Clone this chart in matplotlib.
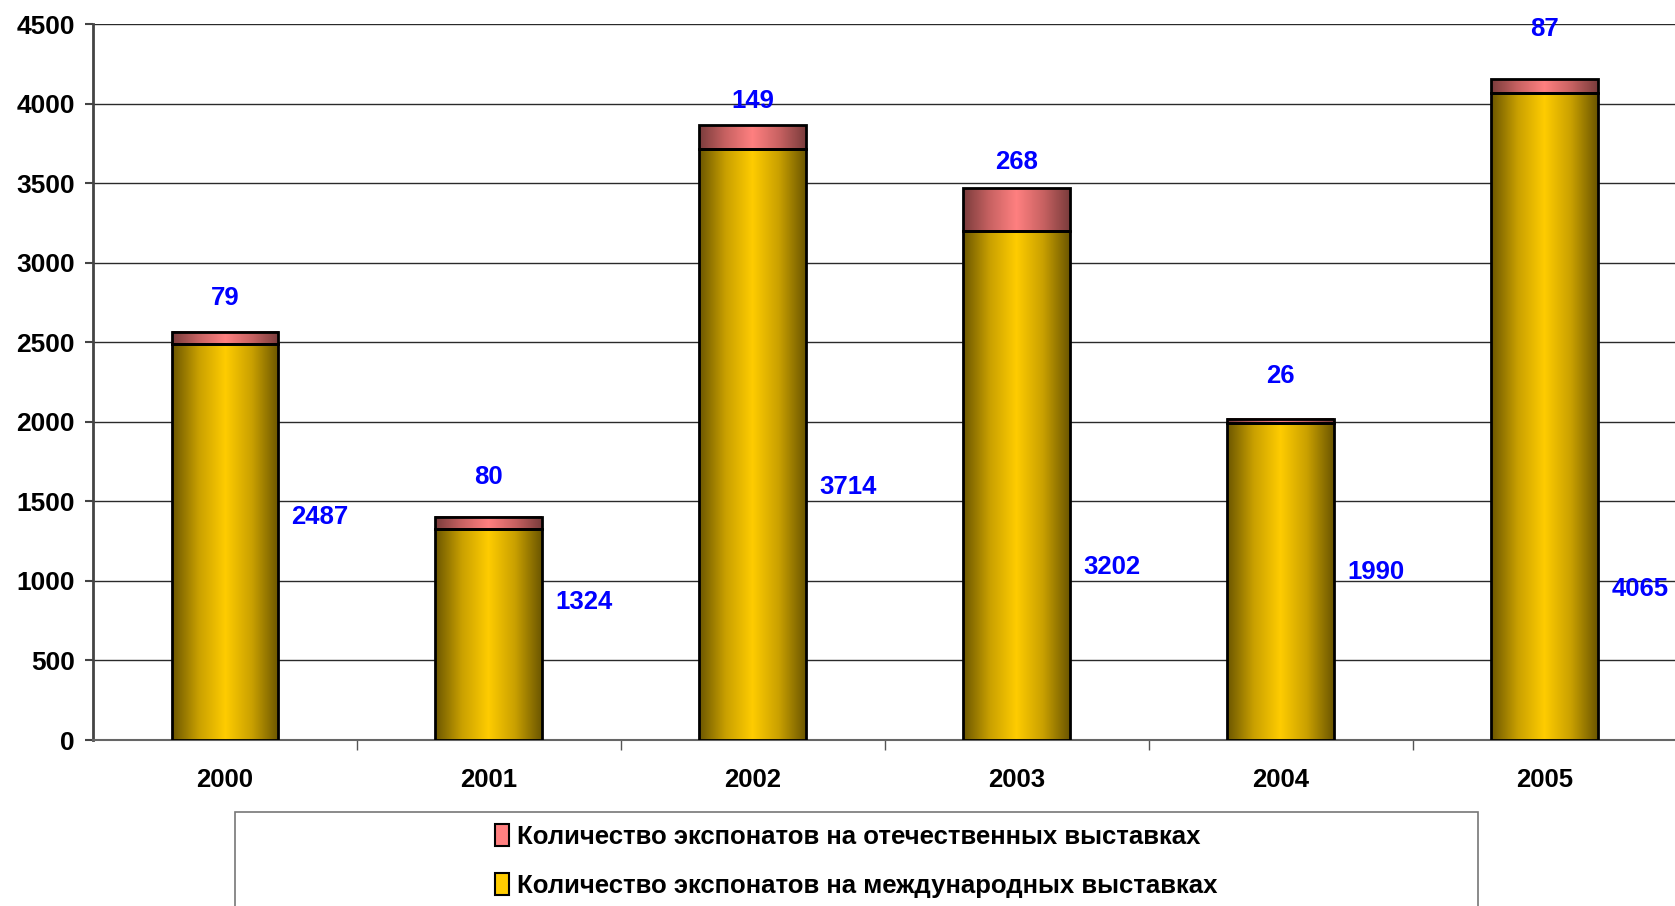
import matplotlib
matplotlib.use('Agg')
import matplotlib.pyplot as plt
import numpy as np
from matplotlib.colors import LinearSegmentedColormap
from matplotlib.patches import Rectangle, Patch

plt.rcParams['font.family'] = ['Liberation Sans', 'DejaVu Sans']
plt.rcParams['font.weight'] = 'bold'

# данные
years = ['2000', '2001', '2002', '2003', '2004', '2005']
international = [2487, 1324, 3714, 3202, 1990, 4065]
domestic = [79, 80, 149, 268, 26, 87]
series_names = ['Количество экспонатов на отечественных выставках',
                'Количество экспонатов на международных выставках']

# где стоят подписи (как в исходнике, расставлены вручную)
dom_label_gap = [212, 249, 150, 163, 272, 317]
int_label_y = [1402, 867, 1590, 1087, 1053, 952]

fig = plt.figure(figsize=(16.75, 9.06), dpi=100)
ax = fig.add_axes([93 / 1675, 1 - 740 / 906, 1 - 93 / 1675 + 0.001, (740 - 24) / 906])

x = np.arange(len(years))
w = 0.405

yellow = LinearSegmentedColormap.from_list('y', ['#6b5600', '#c9a000', '#ffcc00', '#c9a000', '#6b5600'])
pink = LinearSegmentedColormap.from_list('p', ['#7a3c3c', '#c86262', '#ff8080', '#c86262', '#7a3c3c'])
grad = np.linspace(0, 1, 256).reshape(1, -1)

b1 = ax.bar(x, international, w, facecolor='none', edgecolor='black', linewidth=2, zorder=4)
b2 = ax.bar(x, domestic, w, bottom=international, facecolor='none', edgecolor='black',
            linewidth=2, zorder=4)

for i in range(len(years)):
    l, r = x[i] - w / 2, x[i] + w / 2
    ax.imshow(grad, cmap=yellow, extent=[l, r, 0, international[i]], aspect='auto', zorder=3)
    ax.imshow(grad, cmap=pink, extent=[l, r, international[i], international[i] + domestic[i]],
              aspect='auto', zorder=3)

for i in range(len(years)):
    top = international[i] + domestic[i]
    ax.text(x[i], top + dom_label_gap[i], str(domestic[i]), color='#0000ff', fontsize=18.5,
            fontweight='bold', ha='center', va='center', zorder=5)
    ax.text(x[i] + 0.36, int_label_y[i], str(international[i]), color='#0000ff', fontsize=18.5,
            fontweight='bold', ha='center', va='center', zorder=5)

ax.set_xlim(-0.5, 5.5)
ax.set_ylim(0, 4500)
ax.set_yticks(np.arange(0, 4501, 500))
ax.yaxis.grid(True, color='#2a2a2a', linewidth=1)
ax.set_axisbelow(True)

ax.set_xticks(x)
ax.set_xticklabels(years)
ax.set_xticks(np.arange(0.5, 5.5, 1), minor=True)
ax.tick_params(axis='x', which='major', length=0, pad=20, labelsize=18.5)
ax.tick_params(axis='x', which='minor', length=7, width=1, color='#555555')
ax.tick_params(axis='y', length=6, width=1.5, pad=7, labelsize=19, color='#444444')
for lab in ax.get_xticklabels() + ax.get_yticklabels():
    lab.set_fontweight('bold')

ax.spines['top'].set_visible(False)
ax.spines['right'].set_visible(False)
ax.spines['left'].set_color('#444444')
ax.spines['left'].set_linewidth(2)
ax.spines['bottom'].set_color('#666666')
ax.spines['bottom'].set_linewidth(1.5)

# рамка легенды
frame = Rectangle((235 / 1675, -0.05), (1478 - 235) / 1675, 0.05 + 1 - 812 / 906,
                  transform=fig.transFigure, facecolor='white', edgecolor='#777777',
                  linewidth=1.2, zorder=0)
fig.patches.append(frame)

handles = [Patch(facecolor='#ff8080', edgecolor='black', linewidth=1.5),
           Patch(facecolor='#ffcc00', edgecolor='black', linewidth=1.5)]
leg = fig.legend(handles, series_names, loc='center', bbox_to_anchor=(856 / 1675, 1 - 861 / 906),
                 frameon=False, handlelength=0.55, handleheight=0.9,
                 handletextpad=0.3, labelspacing=0.95, prop={'weight': 'bold', 'size': 18.5})

fig.savefig('out.png', dpi=100)
